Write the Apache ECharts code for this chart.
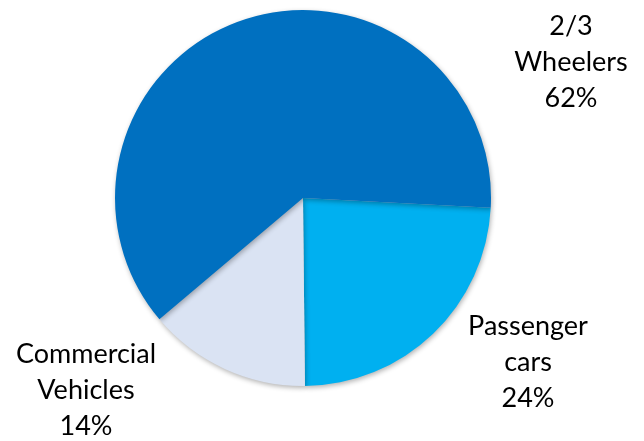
<!DOCTYPE html>
<html>
<head>
<meta charset="utf-8">
<script src="https://cdn.jsdelivr.net/npm/echarts@6/dist/echarts.min.js"></script>
<style>
  html, body { margin: 0; padding: 0; background: #fff; }
  #chart { width: 644px; height: 441px; }
</style>
</head>
<body>
<div id="chart"></div>
<script>
// 数据
const categories = ['Passenger\ncars', 'Commercial\nVehicles', '2/3\nWheelers'];
const shares = [24, 14, 62];
const colors = ['#00B0F0', '#DAE3F3', '#0070C0'];
// label centres (layout only)
const labelPos = [[528, 362], [86, 390], [571, 62]];

const chart = echarts.init(document.getElementById('chart'));

chart.setOption({
    animation: false,
    series: [{
        type: 'pie',
        center: [303, 198],
        radius: 188,
        startAngle: -3,
        clockwise: true,
        data: categories.map((name, i) => ({
            name: name,
            value: shares[i],
            itemStyle: { color: colors[i] }
        })),
        itemStyle: {
            borderWidth: 0,
            shadowBlur: 5,
            shadowOffsetX: 1,
            shadowOffsetY: 2,
            shadowColor: 'rgba(0,0,0,0.3)'
        },
        label: {
            show: true,
            formatter: '{b}\n{d}%',
            fontFamily: 'Lato',
            fontSize: 27,
            lineHeight: 36,
            color: '#000',
            align: 'center'
        },
        labelLine: { show: false },
        labelLayout: (p) => ({
            x: labelPos[p.dataIndex][0],
            y: labelPos[p.dataIndex][1],
            align: 'center',
            verticalAlign: 'middle'
        })
    }]
});
</script>
</body>
</html>
